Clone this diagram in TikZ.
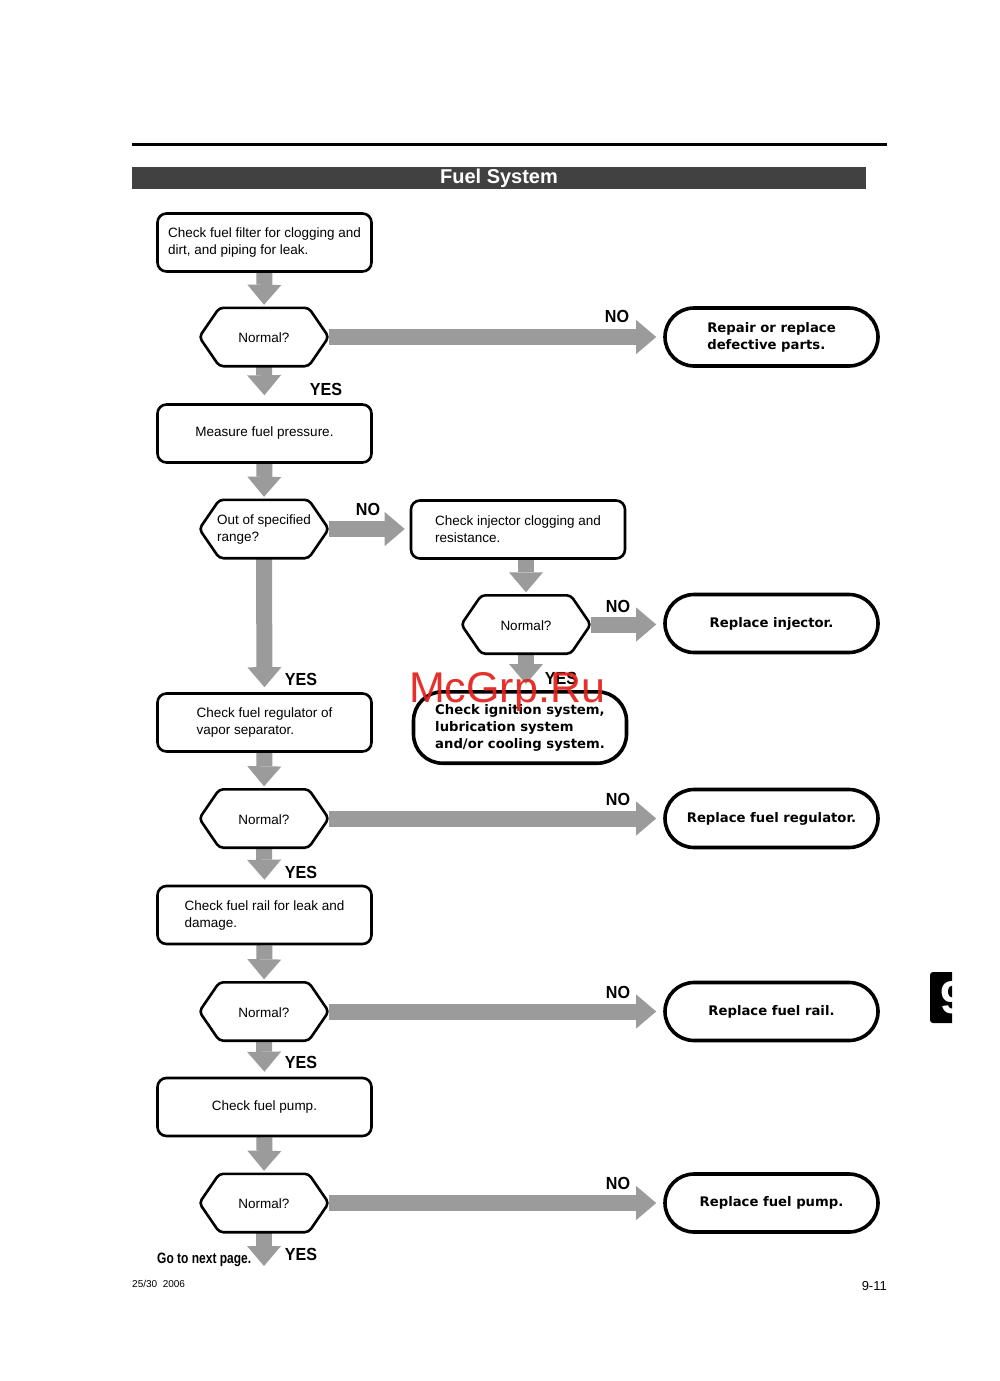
\documentclass[tikz,border=0pt]{standalone}
\usepackage{fontspec}
\setmainfont{Liberation Sans}
\newfontfamily\heavy{DejaVu Sans}
\newfontfamily\cond[FakeStretch=0.8]{Liberation Sans}
\newfontfamily\ynfont[FakeStretch=0.92]{Liberation Sans}
\usetikzlibrary{arrows.meta}
\pgfdeclarelayer{background}
\pgfsetlayers{background,main}
\definecolor{arrowgray}{HTML}{9B9B9B}
\definecolor{titlegray}{HTML}{414141}
\definecolor{wmred}{HTML}{E3201B}
\tikzset{
  box/.style={draw, line width=2.6pt, rounded corners=9pt, fill=white, minimum width=214pt, minimum height=58pt, inner sep=0pt, align=left, font=\fontsize{13.5}{17}\selectfont},
  term/.style={draw, line width=3.6pt, rounded corners=29pt, fill=white, minimum width=213pt, minimum height=58pt, inner sep=0pt, align=left, font=\heavy\bfseries\fontsize{13.2}{17}\selectfont},
  hexbox/.style={minimum width=129pt, minimum height=58pt, inner sep=0pt, align=left, font=\fontsize{13.5}{17}\selectfont},
  hexline/.style={draw, line width=2.6pt, rounded corners=4pt, fill=white, line join=round},
  bigarrow/.style={draw=arrowgray, line width=16pt, -{Triangle[width=34pt,length=20pt,line width=0pt]}},
  yn/.style={font=\ynfont\bfseries\fontsize{17.5}{17}\selectfont, inner sep=0pt},
}
\newcommand\hexoutline[1]{\draw[hexline] (#1.west) -- ([xshift=20pt]#1.north west) -- ([xshift=-20pt]#1.north east) -- (#1.east) -- ([xshift=-20pt]#1.south east) -- ([xshift=20pt]#1.south west) -- cycle;}
\begin{document}
\begin{tikzpicture}[x=1pt,y=-1pt]
\useasboundingbox (0,0) rectangle (1000,1381);
\begin{pgfonlayer}{background}
\fill[white] (0,0) rectangle (1000,1381);
\end{pgfonlayer}
% header
\draw[line width=3pt] (132,144) -- (887,144);
\node[fill=titlegray, minimum width=734pt, minimum height=22pt, inner sep=0pt, text=white, font=\bfseries\fontsize{20}{20}\selectfont] (title) at (499,178) {Fuel System};

% nodes
\node[box] (b1) at (264.5,242.5) {Check fuel filter for clogging and\\dirt, and piping for leak.};
\node[hexbox] (h1) at (264,337) {Normal?};
\hexoutline{h1}
\node[hexbox] at ([yshift=-1pt]h1.center) {Normal?};
\node[term] (t1) at (771.5,337) {Repair or replace\\defective parts.};

\node[box] (b2) at (264.5,433.5) {Measure fuel pressure.};
\node[hexbox] (h2) at (264,529) {Out of specified\\range?};
\hexoutline{h2}
\node[hexbox] at ([yshift=-1pt]h2.center) {Out of specified\\range?};
\node[box] (b3) at (518,529.5) {Check injector clogging and\\resistance.};
\node[hexbox] (h3) at (526,624.5) {Normal?};
\hexoutline{h3}
\node[hexbox] at ([yshift=-1pt]h3.center) {Normal?};
\node[term] (t2) at (771.5,623.5) {Replace injector.};
\node[term, minimum height=71.4pt] (t3) at (520,727.5) {Check ignition system,\\lubrication system\\and/or cooling system.};

\node[box] (b4) at (264.5,722.5) {Check fuel regulator of\\vapor separator.};
\node[hexbox] (h4) at (264,818.5) {Normal?};
\hexoutline{h4}
\node[hexbox] at ([yshift=-1pt]h4.center) {Normal?};
\node[term] (t4) at (771.5,818.5) {Replace fuel regulator.};

\node[box] (b5) at (264.5,915) {Check fuel rail for leak and\\damage.};
\node[hexbox] (h5) at (264,1011.5) {Normal?};
\hexoutline{h5}
\node[hexbox] at ([yshift=-1pt]h5.center) {Normal?};
\node[term] (t5) at (771.5,1011.5) {Replace fuel rail.};

\node[box] (b6) at (264.5,1107) {Check fuel pump.};
\node[hexbox] (h6) at (264,1203) {Normal?};
\hexoutline{h6}
\node[hexbox] at ([yshift=-1pt]h6.center) {Normal?};
\node[term] (t6) at (771.5,1203) {Replace fuel pump.};
\coordinate (next) at (264,1266);

% arrows
\begin{pgfonlayer}{background}
\draw[bigarrow, shorten >=3pt] (b1.south) -- (h1.north);
\draw[bigarrow, shorten >=7pt] (h1.east) -- (h1.east -| t1.west);
\draw[bigarrow, shorten >=8pt] (h1.south) -- (b2.north);
\draw[bigarrow, shorten >=3pt] (b2.south) -- (h2.north);
\draw[bigarrow, shorten >=5pt] (h2.east) -- (h2.east -| b3.west);
\draw[bigarrow, shorten >=5pt] (h2.south) -- (b4.north);
\draw[bigarrow, shorten >=3pt] (h3.north |- b3.south) -- (h3.north);
\draw[bigarrow, shorten >=7pt] (h3.east) -- (h3.east -| t2.west);
\draw[bigarrow, shorten >=6pt] (h3.south) -- (t3.north -| h3.south);
\draw[bigarrow, shorten >=3pt] (b4.south) -- (h4.north);
\draw[bigarrow, shorten >=7pt] (h4.east) -- (h4.east -| t4.west);
\draw[bigarrow, shorten >=5pt] (h4.south) -- (b5.north);
\draw[bigarrow, shorten >=3pt] (b5.south) -- (h5.north);
\draw[bigarrow, shorten >=7pt] (h5.east) -- (h5.east -| t5.west);
\draw[bigarrow, shorten >=5pt] (h5.south) -- (b6.north);
\draw[bigarrow, shorten >=3pt] (b6.south) -- (h6.north);
\draw[bigarrow, shorten >=7pt] (h6.east) -- (h6.east -| t6.west);
\draw[bigarrow] (h6.south) -- (next);
\end{pgfonlayer}

% labels
\node[yn] (no1) at (617,316) {NO};
\node[yn] (yes1) at (326,389) {YES};
\node[yn] (no2) at (368,509) {NO};
\node[yn] (yes2) at (301,679) {YES};
\node[yn] (no3) at (618,606) {NO};
\node[yn] (yes3) at (561,678) {YES};
\node[yn] (no4) at (618,799) {NO};
\node[yn] (yes4) at (301,872) {YES};
\node[yn] (no5) at (618,992) {NO};
\node[yn] (yes5) at (301,1062) {YES};
\node[yn] (no6) at (618,1183) {NO};
\node[yn] (yes6) at (301,1254) {YES};
\node[anchor=west, inner sep=0pt, font=\cond\bfseries\fontsize{15}{15}\selectfont] (goto) at (157,1260) {Go to next page.};

% footer
\node[anchor=west, inner sep=0pt, font=\fontsize{10}{10}\selectfont] (foot) at (132,1284) {25/30\ \ 2006};
\node[anchor=east, inner sep=0pt, font=\fontsize{13}{13}\selectfont] (pageno) at (887,1286) {9-11};

% side tab
\begin{scope}
\clip (928,970) rectangle (952,1025);
\fill[black, rounded corners=3pt] (930,972) rectangle (960,1023);
\node[text=white, font=\bfseries\fontsize{46}{46}\selectfont, inner sep=0pt] (tab) at (953,998) {9};
\end{scope}

% watermark
\node[text=wmred, opacity=0.92, inner sep=0pt, font=\fontsize{43}{43}\selectfont] (wm) at (507,692) {McGrp.Ru};
\end{tikzpicture}
\end{document}
